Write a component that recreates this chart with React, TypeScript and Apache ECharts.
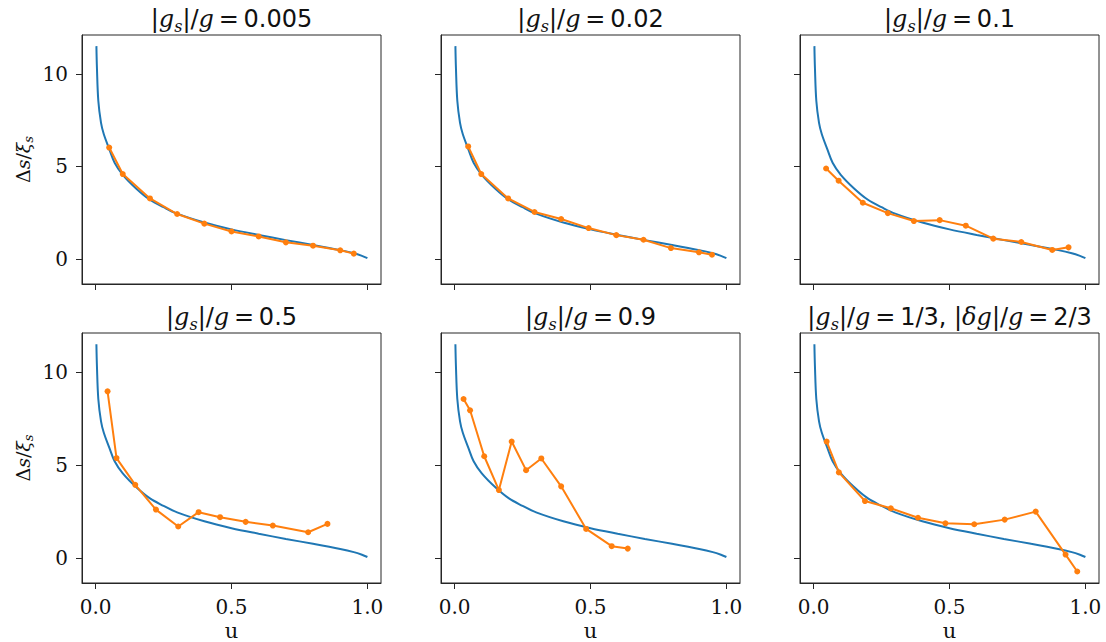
import React, { useEffect, useRef } from "react";
import * as echarts from "echarts";

// Reference curve (blue)
const blueU = [0.003, 0.005, 0.01, 0.02, 0.03, 0.05, 0.07, 0.1, 0.15, 0.2, 0.25, 0.3, 0.4, 0.5, 0.6, 0.7, 0.8, 0.9, 0.95, 0.98, 1.0];
const blueY = [11.5, 10.3, 8.55, 7.35, 6.75, 5.95, 5.2, 4.55, 3.8, 3.2, 2.8, 2.45, 1.97, 1.6, 1.3, 1.02, 0.76, 0.48, 0.31, 0.17, 0.05];

// Measured points (orange), one pair of arrays per panel
const u1 = [0.05, 0.1, 0.2, 0.3, 0.4, 0.5, 0.6, 0.7, 0.8, 0.9, 0.95];
const y1 = [6.02, 4.59, 3.27, 2.43, 1.91, 1.49, 1.22, 0.9, 0.72, 0.47, 0.29];
const u2 = [0.05, 0.098, 0.197, 0.294, 0.392, 0.493, 0.595, 0.695, 0.796, 0.899, 0.947];
const y2 = [6.08, 4.59, 3.27, 2.54, 2.16, 1.67, 1.29, 1.04, 0.59, 0.36, 0.23];
const u3 = [0.046, 0.092, 0.181, 0.273, 0.369, 0.464, 0.56, 0.661, 0.764, 0.878, 0.938];
const y3 = [4.89, 4.23, 3.04, 2.48, 2.05, 2.1, 1.8, 1.1, 0.92, 0.49, 0.63];
const u4 = [0.044, 0.077, 0.146, 0.222, 0.304, 0.379, 0.458, 0.552, 0.652, 0.782, 0.853];
const y4 = [8.96, 5.37, 3.93, 2.6, 1.69, 2.46, 2.19, 1.94, 1.74, 1.38, 1.83];
const u5 = [0.033, 0.057, 0.109, 0.163, 0.21, 0.263, 0.319, 0.392, 0.484, 0.578, 0.637];
const y5 = [8.55, 7.94, 5.47, 3.65, 6.26, 4.72, 5.35, 3.85, 1.56, 0.63, 0.5];
const u6 = [0.048, 0.093, 0.189, 0.284, 0.384, 0.485, 0.591, 0.703, 0.817, 0.927, 0.97];
const y6 = [6.26, 4.6, 3.06, 2.67, 2.16, 1.86, 1.81, 2.06, 2.49, 0.18, -0.73];

const titleValues = ["0.005", "0.02", "0.1", "0.5", "0.9", "1/3"];
const extraTitle6 = "2/3";
const xTicks = [0, 0.5, 1];
const yTicks = [0, 5, 10];

const seriesU = [u1, u2, u3, u4, u5, u6];
const seriesY = [y1, y2, y3, y4, y5, y6];

// layout (pixels)
const colLeft = [82, 441, 800];
const rowTop = [35, 333];
const panelW = 299;
const panelH = 249;

const TXT = "#111";
const SPINE = "#262626";

const titleRich = {
  n: { fontFamily: "DejaVu Sans", fontWeight: "normal", fontSize: 24, lineHeight: 30, color: TXT },
  i: { fontFamily: "DejaVu Serif", fontWeight: "normal", fontStyle: "italic", fontSize: 24, lineHeight: 30, color: TXT },
  sub: { fontFamily: "DejaVu Serif", fontWeight: "normal", fontStyle: "italic", fontSize: 16, lineHeight: 16, verticalAlign: "bottom", color: TXT },
};

function titleText(k: number): string {
  const head = "{n||}{i|g}{sub|s}{n||/}{i|g}";
  if (k === 5) {
    return head + "{n|\u2009=\u2009" + titleValues[k] + ", |}{i|δg}{n||/}{i|g}{n|\u2009=\u2009" + extraTitle6 + "}";
  }
  return head + "{n|\u2009=\u2009" + titleValues[k] + "}";
}

export default function App() {
  const ref = useRef<HTMLDivElement>(null);
  useEffect(() => {
    if (!ref.current) return;
    const chart = echarts.init(ref.current, undefined, { renderer: "svg" });
    const grids: any[] = [];
    const xAxes: any[] = [];
    const yAxes: any[] = [];
    const series: any[] = [];
    const titles: any[] = [];
    for (let k = 0; k < 6; k++) {
      const r = Math.floor(k / 3);
      const c = k % 3;
      const left = colLeft[c];
      const top = rowTop[r];
      const bottomRow = r === 1;
      const leftCol = c === 0;
      grids.push({
        left,
        top,
        width: panelW,
        height: panelH + (bottomRow ? 1 : 0),
        show: true,
        borderColor: SPINE,
        borderWidth: 1,
        backgroundColor: "transparent",
        containLabel: false,
        outerBoundsMode: "none",
      });
      xAxes.push({
        type: "value",
        gridIndex: k,
        min: -0.05,
        max: 1.05,
        axisLine: { show: true, onZero: false, lineStyle: { color: SPINE, width: 1 } },
        axisTick: { show: true, inside: false, length: 6, customValues: xTicks, lineStyle: { color: SPINE, width: 1 } },
        axisLabel: {
          show: bottomRow,
          customValues: xTicks,
          formatter: (v: number) => v.toFixed(1),
          fontFamily: "DejaVu Serif",
          fontSize: 20,
          color: TXT,
          margin: 14,
        },
        splitLine: { show: false },
        name: bottomRow ? "u" : "",
        nameLocation: "middle",
        nameGap: 37,
        nameTextStyle: { fontFamily: "DejaVu Serif", fontSize: 21, color: TXT },
      });
      yAxes.push({
        type: "value",
        gridIndex: k,
        min: -1.35,
        max: 12.1,
        axisLine: { show: true, onZero: false, lineStyle: { color: SPINE, width: 1 } },
        axisTick: { show: true, inside: false, length: 6, customValues: yTicks, lineStyle: { color: SPINE, width: 1 } },
        axisLabel: {
          show: leftCol,
          customValues: yTicks,
          formatter: (v: number) => String(v),
          fontFamily: "DejaVu Serif",
          fontSize: 20,
          color: TXT,
          margin: 14,
        },
        splitLine: { show: false },
        name: leftCol ? "{n|Δ}{i|s}{n|/}{i|ξ}{sub|s}" : "",
        nameLocation: "middle",
        nameGap: 47,
        nameRotate: 90,
        nameTextStyle: {
          rich: {
            n: { fontFamily: "DejaVu Serif", fontSize: 19, lineHeight: 24, color: TXT },
            i: { fontFamily: "DejaVu Serif", fontStyle: "italic", fontSize: 19, lineHeight: 24, color: TXT },
            sub: { fontFamily: "DejaVu Serif", fontStyle: "italic", fontSize: 13, lineHeight: 13, verticalAlign: "bottom", color: TXT },
          },
        },
      });
      series.push({
        type: "line",
        xAxisIndex: k,
        yAxisIndex: k,
        data: blueU.map((u, j) => [u, blueY[j]]),
        symbol: "none",
        showSymbol: false,
        smooth: 0.35,
        lineStyle: { color: "#1f77b4", width: 2 },
        z: 2,
      });
      series.push({
        type: "line",
        xAxisIndex: k,
        yAxisIndex: k,
        data: seriesU[k].map((u, j) => [u, seriesY[k][j]]),
        symbol: "circle",
        symbolSize: 6,
        showSymbol: true,
        showAllSymbol: true,
        itemStyle: { color: "#ff7f0e" },
        lineStyle: { color: "#ff7f0e", width: 2 },
        z: 3,
      });
      titles.push({
        text: titleText(k),
        left: left + panelW / 2,
        top: top - 31,
        textAlign: "center",
        padding: 0,
        textStyle: { fontWeight: "normal", rich: titleRich },
      });
    }
    chart.setOption({
      animation: false,
      backgroundColor: "#ffffff",
      title: titles,
      grid: grids,
      xAxis: xAxes,
      yAxis: yAxes,
      series,
    });
    return () => chart.dispose();
  }, []);
  return <div ref={ref} style={{ position: "absolute", left: 0, top: 0, width: 1106, height: 642 }} />;
}
